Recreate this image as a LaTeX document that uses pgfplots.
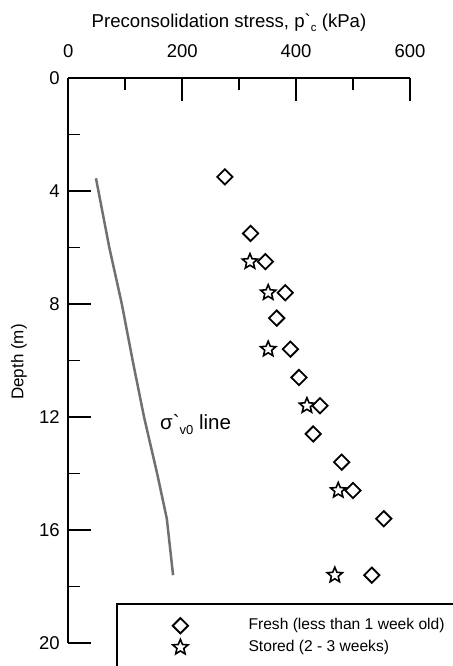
\documentclass[border=0pt]{standalone}
\usepackage{pgfplots}
\pgfplotsset{compat=1.18}
\usepackage{fontspec}
\setmainfont{Liberation Sans}
\usetikzlibrary{plotmarks}
\definecolor{linegray}{RGB}{112,112,112}
\pgfdeclareplotmark{ostar}{%
  \pgfpathmoveto{\pgfpointpolar{90}{\pgfplotmarksize}}%
  \pgfpathlineto{\pgfpointpolar{126}{0.45\pgfplotmarksize}}%
  \pgfpathlineto{\pgfpointpolar{162}{\pgfplotmarksize}}%
  \pgfpathlineto{\pgfpointpolar{198}{0.45\pgfplotmarksize}}%
  \pgfpathlineto{\pgfpointpolar{234}{\pgfplotmarksize}}%
  \pgfpathlineto{\pgfpointpolar{270}{0.45\pgfplotmarksize}}%
  \pgfpathlineto{\pgfpointpolar{306}{\pgfplotmarksize}}%
  \pgfpathlineto{\pgfpointpolar{342}{0.45\pgfplotmarksize}}%
  \pgfpathlineto{\pgfpointpolar{18}{\pgfplotmarksize}}%
  \pgfpathlineto{\pgfpointpolar{54}{0.45\pgfplotmarksize}}%
  \pgfpathclose
  \pgfusepathqstroke
}
\pgfplotsset{
  mylegimg/.style={legend image code/.code={\path (-10pt,0pt) (68pt,0pt); \draw[##1, only marks] plot coordinates {(0pt,0pt)};}}
}
\begin{document}
\begin{tikzpicture}
\begin{axis}[
  scale only axis, width=341.7pt, height=565pt,
  xmin=0, xmax=600, ymin=0, ymax=20,
  y dir=reverse,
  axis x line=top, axis y line=left,
  axis line style={-, line width=1.9pt},
  tick style={black, line width=1.9pt},
  tick align=inside,
  major tick length=23pt, minor tick length=12pt,
  xtick={0,200,400,600}, ytick={0,4,...,20},
  minor x tick num=1, minor y tick num=1,
  /pgf/number format/assume math mode=true,
  tick label style={font=\fontsize{18.5}{18.5}\selectfont},
  xticklabel style={yshift=17pt},
  yticklabel style={xshift=-5pt},
  clip=false,
  legend style={draw=none, fill=none, at={(axis description cs:0.2976,0.0120)}, anchor=west,
    inner sep=0pt, font=\fontsize{15.6}{18}\selectfont, row sep=6pt,
    nodes={inner sep=0pt, text height=11pt, text depth=3pt}},
  legend cell align=left,
]
\addplot[only marks, mark=square, mark size=5.4pt, mark options={rotate=45, line width=1.8pt, draw=black, fill=none}, mylegimg]
  coordinates {(275,3.5) (320,5.5) (346,6.5) (381,7.6) (366,8.5) (390,9.6) (405,10.6) (442,11.6) (430,12.6) (480,13.6) (500,14.6) (554,15.6) (533,17.6)};
\addlegendentry{Fresh (less than 1 week old)}
\addplot[only marks, mark=ostar, mark size=8pt, mark options={line width=1.6pt, draw=black, fill=none}, mylegimg]
  coordinates {(319,6.5) (351,7.6) (351,9.6) (419,11.6) (474,14.6) (468,17.6)};
\addlegendentry{Stored (2 - 3 weeks)}
\addplot[no marks, draw=linegray, line width=2.5pt, forget plot]
  coordinates {(48.6,3.55) (72,6) (94,8) (113,10) (133,12) (156,14) (173,15.6) (184,17.6)};
\node[anchor=base, font=\fontsize{18.6}{18.6}\selectfont] at (axis description cs:0.4703,1.0885)
  {Preconsolidation stress, p\textasciigrave\raisebox{-4pt}{\fontsize{11.5}{11.5}\selectfont c} (kPa)};
\node[rotate=90, font=\fontsize{17}{17}\selectfont] at (axis description cs:-0.1442,0.4973) {Depth (m)};
\node[anchor=base west, font=\fontsize{20.5}{20.5}\selectfont, inner sep=0pt] at (axis cs:161,12.46)
  {σ\textasciigrave\raisebox{-5pt}{\fontsize{13}{13}\selectfont v0} line};
\draw[line width=1.6pt] (axis description cs:0.1425,-0.3) |- (axis description cs:1.5,0.0690);
\coordinate (bbsw) at (axis description cs:-0.19988,-0.04071);
\coordinate (bbne) at (axis description cs:1.12584,1.13805);
\end{axis}
\pgfresetboundingbox
\useasboundingbox (bbsw) rectangle (bbne);
\end{tikzpicture}
\end{document}
